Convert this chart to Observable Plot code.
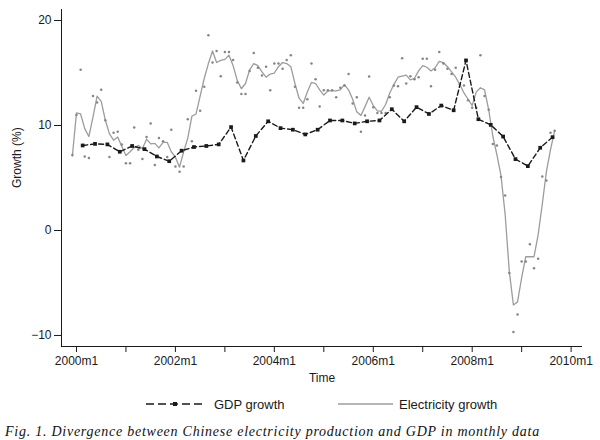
<!DOCTYPE html>
<html>
<head>
<meta charset="utf-8">
<script src="https://cdn.jsdelivr.net/npm/d3@7"></script>
<script src="https://cdn.jsdelivr.net/npm/@observablehq/plot@0.6"></script>
<style>
  html, body { margin: 0; padding: 0; background: #fff; }
  body { width: 600px; height: 440px; overflow: hidden; font-family: "Liberation Sans", Arial, sans-serif; color: #1a1a1a; position: relative; }
  #legend { position: relative; width: 600px; height: 24px; font-size: 13px; }
  #legend .item { position: absolute; top: 0; height: 24px; display: flex; align-items: center; }
  #legend svg { display: block; }
  #caption { position: absolute; left: 5px; top: 424px; font-family: "Liberation Serif", "Times New Roman", serif; font-style: italic; font-size: 14px; letter-spacing: 0.75px; white-space: nowrap; color: #111; }
</style>
</head>
<body>
<div id="chart"></div>
<div id="legend"></div>
<div id="caption">Fig. 1. Divergence between Chinese electricity production and GDP in monthly data</div>
<script>
// ---- data ----
// quarterly GDP growth (%), 2000Q1 .. 2009Q3
const gdpFirstYear = 2000;
const gdpGrowth = [
  8.1, 8.25, 8.2, 7.5,
  8.05, 7.75, 7.05, 6.6,
  7.6, 7.95, 8.05, 8.2,
  9.85, 6.67, 9.0, 10.4,
  9.75, 9.6, 9.15, 9.6,
  10.48, 10.48, 10.2, 10.4,
  10.48, 11.55, 10.4, 11.75,
  11.1, 11.9, 11.45, 16.2,
  10.6, 10.06, 8.95, 6.8,
  6.13, 7.88, 8.89
];
// monthly electricity growth (%), 1999m12 .. 2009m9
const elecFirst = { year: 1999, month: 12 };
const elecSmoothed = [
  7.1, 11.2, 11.1, 9.7, 8.95, 10.8, 12.8, 12.3, 10.5, 9.2,
  8.6, 8.9, 8.0, 7.14, 7.5, 7.9, 8.1, 7.8, 8.7, 8.25,
  8.3, 7.87, 8.4, 8.4, 7.5, 6.98, 6.03, 7.5, 8.8, 10.9,
  11.1, 12.8, 14.5, 15.9, 17.1, 16.0, 16.2, 16.3, 16.7, 15.7,
  14.3, 13.5, 14.0, 15.3, 15.9, 15.7, 15.1, 14.6, 14.9, 15.0,
  15.6, 16.0, 15.9, 15.6, 14.0, 12.6, 12.1, 13.2, 14.1, 14.0,
  13.4, 12.9, 13.3, 13.3, 13.3, 13.4, 13.9, 13.4, 12.5, 11.3,
  10.95, 11.8, 12.7, 11.9, 11.4, 11.36, 12.0, 13.1, 13.9, 14.6,
  14.7, 14.8, 14.35, 14.5, 15.2, 15.7, 15.55, 15.2, 15.5, 16.1,
  16.0, 15.6, 15.1, 14.6, 13.9, 13.1, 12.5, 11.9, 13.2, 13.6,
  13.4, 11.5, 9.0, 7.2, 5.2, 1.5, -3.9, -7.1, -6.8, -4.5,
  -2.5, -2.5, -2.5, -0.4, 2.5, 5.6, 7.7, 9.5
];
const elecMonthly = [
  7.2, 11.0, 15.3, 7.05, 6.9, 12.8, 12.2, 13.4, 10.5, 7.0,
  9.3, 9.4, 8.2, 6.4, 6.4, 9.8, 7.7, 6.8, 8.9, 10.2,
  6.25, 8.8, 8.5, 7.0, 9.6, 6.1, 5.6, 6.1, 10.6, 8.5,
  13.3, 11.4, 13.7, 18.6, 16.0, 17.1, 14.7, 17.0, 17.0, 16.25,
  14.1, 13.0, 13.0, 15.2, 16.9, 15.5, 14.76, 15.6, 13.35, 15.9,
  15.9, 15.4, 16.25, 16.7, 13.7, 11.7, 11.7, 12.5, 15.9, 14.4,
  11.8, 13.35, 13.35, 13.35, 12.7, 13.6, 13.8, 14.9, 12.1, 12.7,
  9.4, 10.95, 14.67, 11.75, 11.2, 11.2, 11.2, 12.7, 13.8, 13.75,
  16.4, 14.0, 14.7, 14.4, 14.6, 16.35, 16.35, 13.75, 15.3, 17.0,
  15.9, 15.4, 14.9, 15.5, 13.9, 13.8, 12.4, 11.7, 11.7, 16.7,
  12.8, 11.5, 8.25, 8.1, 5.1, 3.33, -4.06, -9.68, -8.0, -2.95,
  -2.95, -1.3, -3.6, -2.7, 5.14, 4.76, 9.3, 9.5
];
const yTicks = [-10, 0, 10, 20];
const xMajorYears = [2000, 2002, 2004, 2006, 2008, 2010];
const xMinorYears = [2001, 2003, 2005, 2007, 2009];
const xDomain = [1999.697, 2010.23];
const yDomain = [-11.05, 21.05];

// ---- tables ----
const gdp = gdpGrowth.map((v, i) => ({ t: gdpFirstYear + i / 4 + 0.125, v }));
const elec = elecSmoothed.map((s, k) => ({
  t: elecFirst.year + (elecFirst.month - 1 + k) / 12,
  smooth: s,
  raw: elecMonthly[k]
}));

const ink = "#1a1a1a";
const lineGray = "#9c9c9c";

const chart = Plot.plot({
  width: 600,
  height: 392,
  marginTop: 9,
  marginBottom: 46,
  marginLeft: 61,
  marginRight: 18,
  style: { fontFamily: "'Liberation Sans', Arial, sans-serif", fontSize: "12px", color: ink, background: "#fff" },
  x: { type: "linear", domain: xDomain, axis: null },
  y: { domain: yDomain, axis: null },
  marks: [
    Plot.line(elec, { x: "t", y: "smooth", stroke: lineGray, strokeWidth: 1.3 }),
    Plot.dot(elec, { x: "t", y: "raw", r: 1.25, fill: "#858585", stroke: "none" }),
    Plot.line(gdp, { x: "t", y: "v", stroke: ink, strokeWidth: 1.4, strokeDasharray: "5,3" }),
    Plot.dot(gdp, { x: "t", y: "v", symbol: "square", r: 2.1, fill: ink, stroke: "none" }),
    Plot.ruleX([xDomain[0]], { stroke: ink, strokeWidth: 1 }),
    Plot.ruleY([yDomain[0]], { stroke: ink, strokeWidth: 1 }),
    Plot.axisY(yTicks, { anchor: "left", tickSize: 7, tickPadding: 3, fontSize: 12, label: null, stroke: ink, fill: ink }),
    Plot.axisX(xMajorYears, { anchor: "bottom", tickSize: 6, tickPadding: 4, fontSize: 12, label: null, tickFormat: d => d + "m1", stroke: ink, fill: ink }),
    Plot.axisX(xMinorYears, { anchor: "bottom", tickSize: 6, tickFormat: () => "", label: null, stroke: ink }),
    Plot.text(["Time"], { text: d => d, frameAnchor: "bottom", dy: 35, fontSize: 12, fill: ink }),
    Plot.text(["Growth (%)"], { text: d => d, frameAnchor: "left", dx: -44, dy: 10, rotate: -90, fontSize: 12, fill: ink })
  ]
});
document.getElementById("chart").appendChild(chart);

// ---- legend ----
const legend = document.getElementById("legend");
legend.innerHTML = `
  <div class="item" style="left:146px">
    <svg width="60" height="12"><line x1="0" y1="6" x2="60" y2="6" stroke="${ink}" stroke-width="1.4" stroke-dasharray="8,4"/><rect x="27" y="4" width="4" height="4" fill="${ink}"/></svg>
    <span style="margin-left:8px">GDP growth</span>
  </div>
  <div class="item" style="left:338px">
    <svg width="55" height="12"><line x1="0" y1="6" x2="55" y2="6" stroke="${lineGray}" stroke-width="1.4"/></svg>
    <span style="margin-left:6px">Electricity growth</span>
  </div>`;
</script>
</body>
</html>
